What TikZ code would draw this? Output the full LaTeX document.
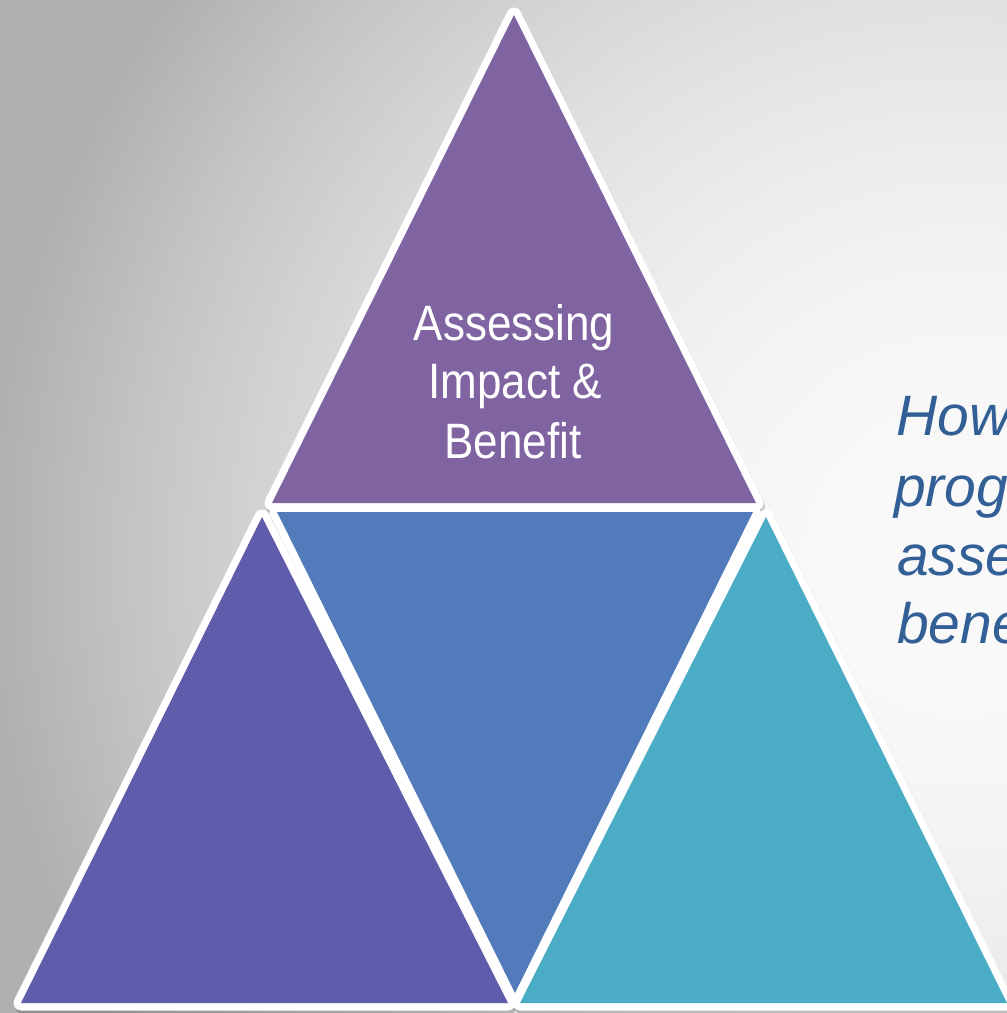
\documentclass[tikz,border=0pt]{standalone}
\usepackage{fontspec}
\setmainfont{Liberation Sans}
\definecolor{toppurple}{RGB}{128,100,162}
\definecolor{leftviolet}{RGB}{96,92,172}
\definecolor{midblue}{RGB}{82,123,187}
\definecolor{rightteal}{RGB}{75,172,198}
\definecolor{qblue}{RGB}{50,96,150}
\begin{document}
\begin{tikzpicture}[x=1pt,y=-1pt,
  whiteedge/.style={draw=white,line width=15pt,line join=round},
  shadowedge/.style={draw=black,draw opacity=0.18,line width=15pt,line join=round},
  titletext/.style={text=white,font=\fontsize{44}{52}\selectfont,inner sep=0pt,anchor=base},
  questiontext/.style={text=qblue,font=\itshape\fontsize{57}{69}\selectfont,inner sep=0pt,anchor=base west}]
\useasboundingbox (0,0) rectangle (1007,1013);
\clip (0,0) rectangle (1007,1013);
% background radial gradient
\foreach \i in {0,...,240}{
  \pgfmathsetmacro\rr{1200-5*\i}
  \pgfmathtruncatemacro\gg{max(176,250-72*(\rr/960)^2)}
  \definecolor{bgc}{RGB}{\gg,\gg,\gg}
  \fill[bgc] (960,560) circle[radius=\rr];
}
% triangle corners (inner edges of the coloured areas)
\coordinate (T1) at (514,15);
\coordinate (T2) at (272,503);
\coordinate (T3) at (756,503);
\coordinate (M1) at (277,512);
\coordinate (M2) at (753,512);
\coordinate (M3) at (515,993);
\coordinate (L1) at (262,517);
\coordinate (L2) at (21,1003);
\coordinate (L3) at (508,1003);
\coordinate (R1) at (766,517);
\coordinate (R2) at (520,1003);
\coordinate (R3) at (1007,1003);
% shadow
\begin{scope}[transform canvas={shift={(1.5,3)}}]
  \draw[shadowedge] (T1) -- (T2) -- (T3) -- cycle;
  \draw[shadowedge] (L1) -- (L2) -- (L3) -- cycle;
  \draw[shadowedge] (R1) -- (R2) -- (R3) -- cycle;
\end{scope}
% white outlines
\draw[whiteedge] (T1) -- (T2) -- (T3) -- cycle;
\draw[whiteedge] (M1) -- (M2) -- (M3) -- cycle;
\draw[whiteedge] (L1) -- (L2) -- (L3) -- cycle;
\draw[whiteedge] (R1) -- (R2) -- (R3) -- cycle;
% fills
\fill[toppurple] (T1) -- (T2) -- (T3) -- cycle;
\fill[midblue] (M1) -- (M2) -- (M3) -- cycle;
\fill[leftviolet] (L1) -- (L2) -- (L3) -- cycle;
\fill[rightteal] (R1) -- (R2) -- (R3) -- cycle;
% title
\node[titletext] (t1) at (514,340) {\scalebox{1}[1.13]{Assessing}};
\node[titletext] (t2) at (515,398) {\scalebox{1}[1.13]{Impact \&}};
\node[titletext] (t3) at (513,458) {\scalebox{1}[1.13]{Benefit}};
% question text (cut by the right edge, as in the reference)
\node[questiontext] (q1) at (896,435) {How};
\node[questiontext] (q2) at (894,506) {prog};
\node[questiontext] (q3) at (897,575) {asse};
\node[questiontext] (q4) at (897,643) {bene};
\end{tikzpicture}
\end{document}
